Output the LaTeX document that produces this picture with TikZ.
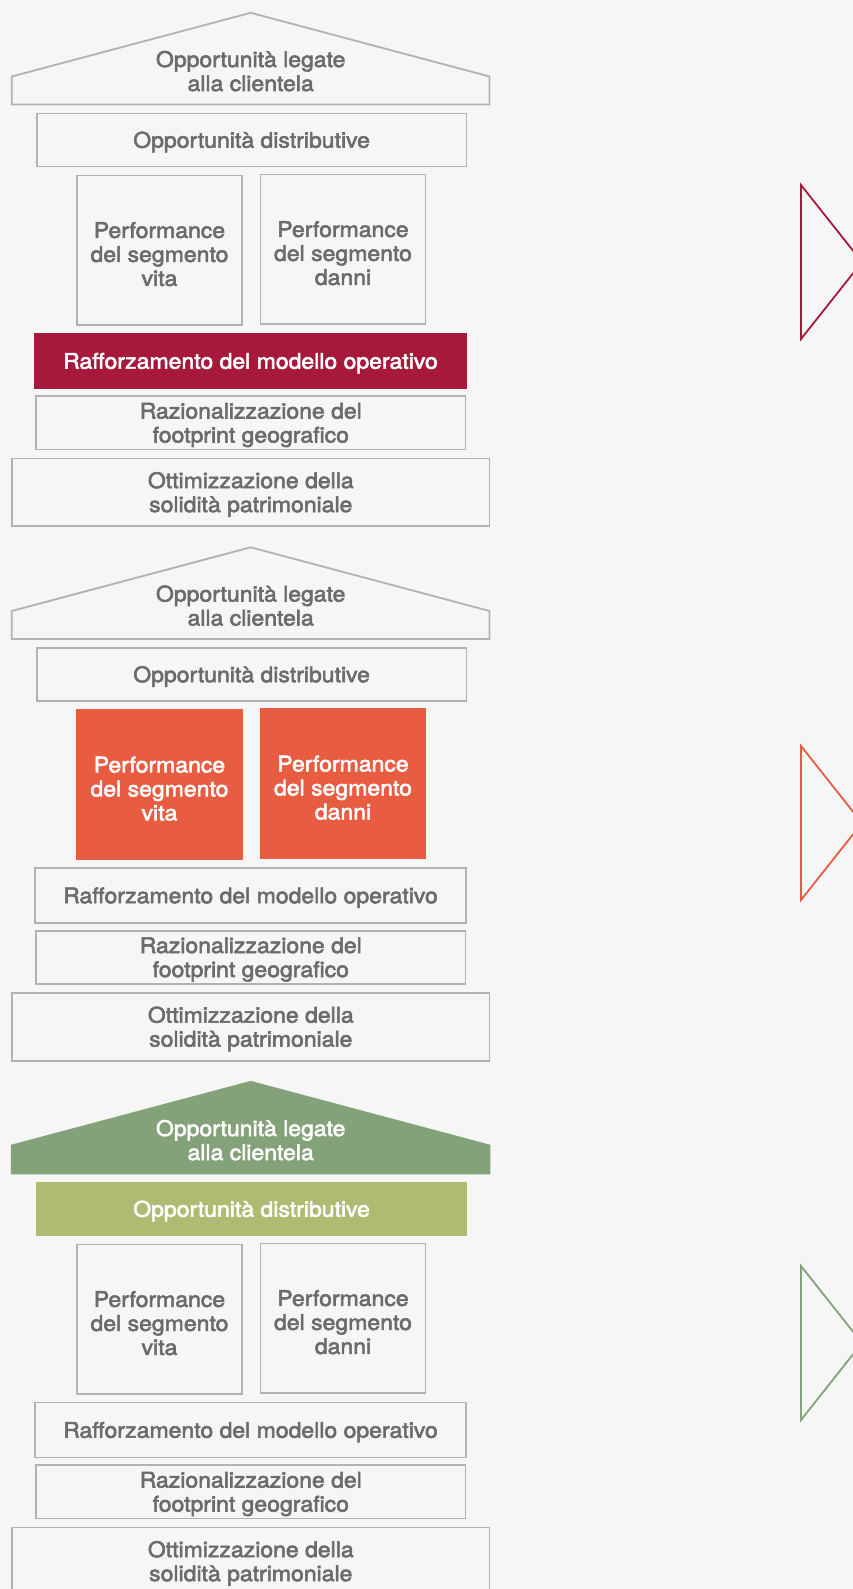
\documentclass[tikz,border=0pt]{standalone}
\usepackage{fontspec}
\newfontfamily\labelfont{TeX Gyre Heros}[FakeStretch=1.07,FakeBold=2.6]

\definecolor{paper}{HTML}{F6F6F6}
\definecolor{linegray}{HTML}{B2B2B2}
\definecolor{txtgray}{HTML}{6B6B6B}
\definecolor{brandred}{HTML}{A6193A}
\definecolor{brandorange}{HTML}{E85C42}
\definecolor{darkgreen}{HTML}{84A279}
\definecolor{lightgreen}{HTML}{AFBB73}

% struts that centre the cap height of a text block in its box
\newcommand\captop{\rule{0pt}{20.4pt}}
\newcommand\caphigh{\rule{0pt}{28.4pt}}
\newcommand\capbot{\rule[-5pt]{0pt}{5pt}}

\tikzset{
  word/.style={font=\labelfont\fontsize{21.5pt}{24pt}\selectfont, align=center, inner sep=0pt},
  box/.style={word, draw=linegray, line width=1.8pt, text=txtgray},
  hotbox/.style={word, draw=#1, fill=#1, line width=1.8pt, text=white},
  redbox/.style={hotbox=brandred},
  orangebox/.style={hotbox=brandorange},
  greenbox/.style={hotbox=lightgreen},
  shell/.style={draw=linegray, line width=1.8pt, line join=miter},
  shellhot/.style={draw=darkgreen, fill=darkgreen, line width=1.8pt, line join=miter},
  shell ink/.style={text=txtgray},
  shellhot ink/.style={text=white},
  marker/.style={draw=#1, line width=1.8pt, line join=miter},
}

% one column of the temple: #1 name suffix, #2 vertical offset,
% #3 roof style, #4 distribution style, #5 segment style, #6 operating model style
\newcommand\pillar[6]{%
  \begin{scope}[shift={(0,#2)}]
    \draw[#3] (11.8,104.5) -- (11.8,76.5) -- (250.7,12.8) -- (489.5,76.5) -- (489.5,104.5) -- cycle;
    \node[word, #3 ink] (roof#1) at (250.7,71.3)
      {\captop Opportunità legate\\alla clientela\capbot};
    \node[#4, minimum width=429.7pt, minimum height=53pt] (distribution#1) at (251.6,140)
      {\captop Opportunità distributive\capbot};
    \node[#5, minimum width=164.6pt, minimum height=149.3pt] (life#1) at (159.5,250.2)
      {\caphigh Performance\\del segmento\\vita\capbot};
    \node[#5, minimum width=165pt, minimum height=149.3pt] (nonlife#1) at (343,249.2)
      {\caphigh Performance\\del segmento\\danni\capbot};
    \node[#6, minimum width=430.8pt, minimum height=55pt] (operating#1) at (250.5,361)
      {\captop Rafforzamento del modello operativo\capbot};
    \node[box, minimum width=429.3pt, minimum height=53.3pt] (footprint#1) at (250.8,422.8)
      {\captop Razionalizzazione del\\footprint geografico\capbot};
    \node[box, minimum width=477.3pt, minimum height=67.8pt] (capital#1) at (250.8,492.4)
      {\captop Ottimizzazione della\\solidità patrimoniale\capbot};
  \end{scope}}

\begin{document}
\begin{tikzpicture}[x=1pt,y=-1pt]
  \fill[paper] (0,0) rectangle (853,1589);
  \useasboundingbox (0,0) rectangle (853,1589);
  \clip (0,0) rectangle (853,1589);

  \pillar{a}{0}{shell}{box}{box}{redbox}
  \pillar{b}{534.5}{shell}{box}{orangebox}{box}
  \pillar{c}{1069}{shellhot}{greenbox}{box}{box}

  % pointers on the right
  \draw[marker=brandred]    (801,185)  -- (801,339)  -- (862,262)  -- cycle;
  \draw[marker=brandorange] (801,746)  -- (801,900)  -- (862,823)  -- cycle;
  \draw[marker=darkgreen]   (801,1266) -- (801,1420) -- (862,1343) -- cycle;
\end{tikzpicture}
\end{document}
